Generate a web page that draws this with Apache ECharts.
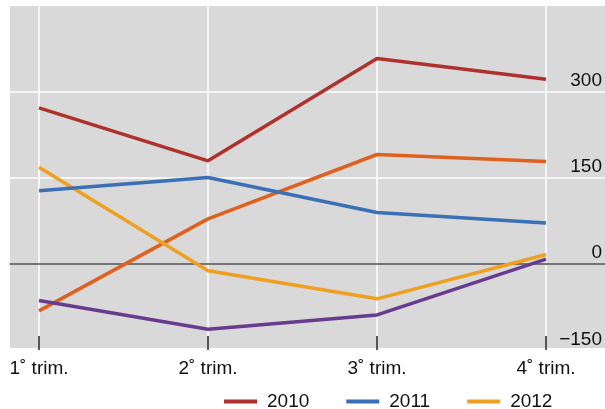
<!DOCTYPE html>
<html>
<head>
<meta charset="utf-8">
<script src="https://cdn.jsdelivr.net/npm/echarts@6/dist/echarts.min.js"></script>
<style>
  html, body { margin: 0; padding: 0; background: #fff; }
  #chart { width: 605px; height: 409px; }
</style>
</head>
<body>
<div id="chart"></div>
<script>
const categories = ['1\u02da trim.', '2\u02da trim.', '3\u02da trim.', '4\u02da trim.']
const s2010 = [271, 179, 357, 321]
const s2011 = [127, 150, 89, 71]
const s2012 = [168, -12, -61, 16]
const sOrange = [-82, 78, 190, 178]
const sPurple = [-64, -114, -89, 8]
const legendNames = ['2010', '2011', '2012']

const FONT = 'Liberation Sans, Arial, sans-serif'
const chart = echarts.init(document.getElementById('chart'), null, { renderer: 'canvas' })

function line(name, data, color) {
  return {
    name, type: 'line', data,
    xAxisIndex: 2, yAxisIndex: 2,
    showSymbol: false, symbol: 'none',
    lineStyle: { color, width: 3.5 },
    itemStyle: { color },
    z: 5
  }
}

chart.setOption({
  animation: false,
  textStyle: { fontFamily: FONT },
  grid: [
    // gray background
    { left: 10, right: 0, top: 6, bottom: 61, show: true, backgroundColor: '#d9d9d9', borderWidth: 0, z: 0 },
    // full-width horizontal gridlines + zero line
    { left: 10, right: 0, top: 5, bottom: 59, z: 1 },
    // data grid
    { left: 39, right: 58, top: 5, bottom: 59, z: 2 }
  ],
  xAxis: [
    { gridIndex: 0, type: 'value', min: 0, max: 1, show: false },
    {
      gridIndex: 1, type: 'value', min: 0, max: 1,
      axisLine: { show: true, onZero: true, lineStyle: { color: '#4a4a4a', width: 1.5 } },
      axisTick: { show: false }, axisLabel: { show: false }, splitLine: { show: false }
    },
    {
      gridIndex: 2, type: 'category', data: categories, boundaryGap: false,
      axisLine: { show: false, onZero: false },
      axisTick: { show: true, inside: true, length: 14, lineStyle: { color: '#222', width: 1.5 } },
      splitLine: { show: true, lineStyle: { color: '#ffffff', width: 1.5 } },
      axisLabel: { color: '#111', fontSize: 19, margin: 9, fontFamily: FONT }
    }
  ],
  yAxis: [
    { gridIndex: 0, type: 'value', min: 0, max: 1, show: false },
    {
      gridIndex: 1, type: 'value', min: -150, max: 450, interval: 150,
      axisLine: { show: false }, axisTick: { show: false }, axisLabel: { show: false },
      splitLine: { show: true, lineStyle: { color: '#ffffff', width: 1.5 } }
    },
    {
      gridIndex: 2, type: 'value', position: 'right', min: -150, max: 450, interval: 150,
      axisLine: { show: false }, axisTick: { show: false }, splitLine: { show: false },
      axisLabel: {
        color: '#111', fontSize: 19, fontFamily: FONT,
        align: 'right', verticalAlign: 'bottom', margin: 56,
        padding: [0, 0, 1, 0], showMaxLabel: false,
        formatter: v => (v < 0 ? '\u2212' + Math.abs(v) : String(v))
      }
    }
  ],
  legend: {
    data: legendNames,
    left: 219, top: 387,
    icon: 'rect', itemWidth: 33, itemHeight: 4, itemGap: 37,
    textStyle: { color: '#111', fontSize: 19, fontFamily: FONT, padding: [0, 0, 0, 5] }
  },
  series: [
    line('2013', sOrange, '#e0601f'),
    line('2014', sPurple, '#673c8e'),
    line('2012', s2012, '#f0a020'),
    line('2011', s2011, '#3b6fb6'),
    line('2010', s2010, '#b0302e')
  ]
})
</script>
</body>
</html>
